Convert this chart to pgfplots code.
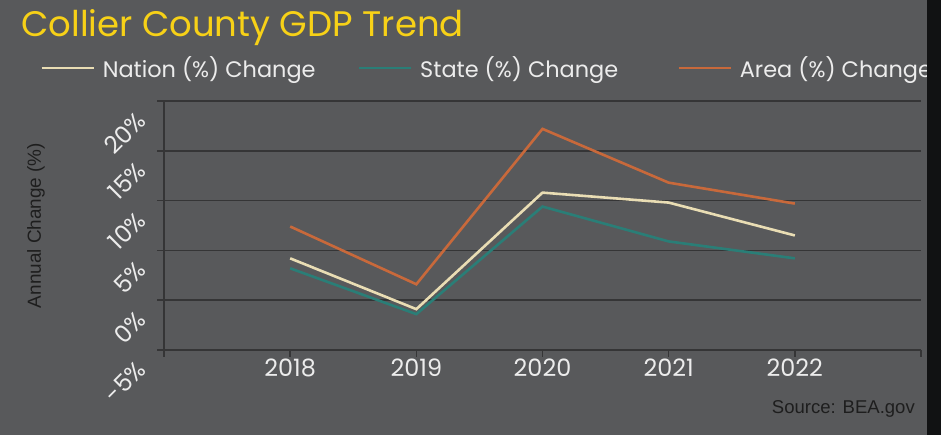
\documentclass[border=0pt]{standalone}
\usepackage{fontspec}
\setmainfont{Poppins}
\newfontfamily\arialfont{Liberation Sans}
\usepackage{pgfplots}
\pgfplotsset{compat=1.18}
\definecolor{bg}{HTML}{58595B}
\definecolor{gridc}{HTML}{353536}
\definecolor{nation}{HTML}{E9DDB4}
\definecolor{state}{HTML}{2A7E77}
\definecolor{area}{HTML}{C8693B}
\definecolor{titlec}{HTML}{F7D117}
\definecolor{labc}{HTML}{ECECEC}
\definecolor{darkc}{HTML}{1E1E1E}
\definecolor{strip}{HTML}{111213}
\begin{document}
\begin{tikzpicture}[x=1bp,y=1bp]
\fill[bg] (0,0) rectangle (941,435);
\useasboundingbox (0,0) rectangle (941,435);
\node[anchor=base west, text=titlec, font=\fontsize{35.6}{40}\selectfont, inner sep=0pt] at (21,398) {Collier County GDP Trend};
\begin{axis}[
  at={(164bp,85bp)}, anchor=south west,
  scale only axis, width=757bp, height=249bp,
  xmin=2017, xmax=2023, ymin=-5, ymax=20,
  xtick={2017,2018,2019,2020,2021,2022,2023},
  xticklabels={,2018,2019,2020,2021,2022,},
  ytick={-5,0,5,10,15,20},
  yticklabel={\pgfmathprintnumber{\tick}\%},
  /pgf/number format/assume math mode=true,
  ymajorgrids,
  grid style={gridc, line width=1.5bp},
  axis x line*=bottom, axis y line*=left,
  axis line style={gridc, line width=1.5bp},
  tick style={gridc, line width=1.5bp},
  tick align=outside, major tick length=7bp,
  x tick label style={text=labc, font=\fontsize{24}{28}\selectfont, yshift=2bp},
  y tick label style={text=labc, font=\fontsize{24}{28}\selectfont, yshift=-13bp, xshift=-13bp, rotate=45, anchor=east},
  ylabel={Annual Change (\%)},
  ylabel style={font=\arialfont\fontsize{19}{22}\selectfont, text=darkc, at={(axis description cs:-0.169,0.5)}, anchor=center},
  legend columns=3,
  legend style={at={(axis description cs:-0.1638,1.1325)}, anchor=west, draw=none, fill=none, text=labc,
    font=\fontsize{22.5}{26}\selectfont, inner sep=0pt,
    /tikz/every odd column/.append style={column sep=6bp},
    /tikz/every even column/.append style={column sep=40bp}},
  legend image code/.code={\draw[#1] (0bp,0bp) -- (52bp,0bp);},
]
\addplot[nation, line width=2.6bp] coordinates {(2018,4.2) (2019,-0.9) (2020,10.8) (2021,9.8) (2022,6.5)};
\addlegendentry{Nation (\%) Change}
\addplot[state, line width=2.6bp] coordinates {(2018,3.2) (2019,-1.4) (2020,9.4) (2021,5.9) (2022,4.2)};
\addlegendentry{State (\%) Change\rule{17bp}{0pt}}
\addplot[area, line width=2.6bp] coordinates {(2018,7.4) (2019,1.6) (2020,17.2) (2021,11.8) (2022,9.7)};
\addlegendentry{Area (\%) Change}
\end{axis}
\node[anchor=base east, text=darkc, font=\arialfont\fontsize{18.6}{22}\selectfont, inner sep=0pt] at (915,21) {Source: BEA.gov};
\fill[strip] (927,0) rectangle (941,435);
\end{tikzpicture}
\end{document}
